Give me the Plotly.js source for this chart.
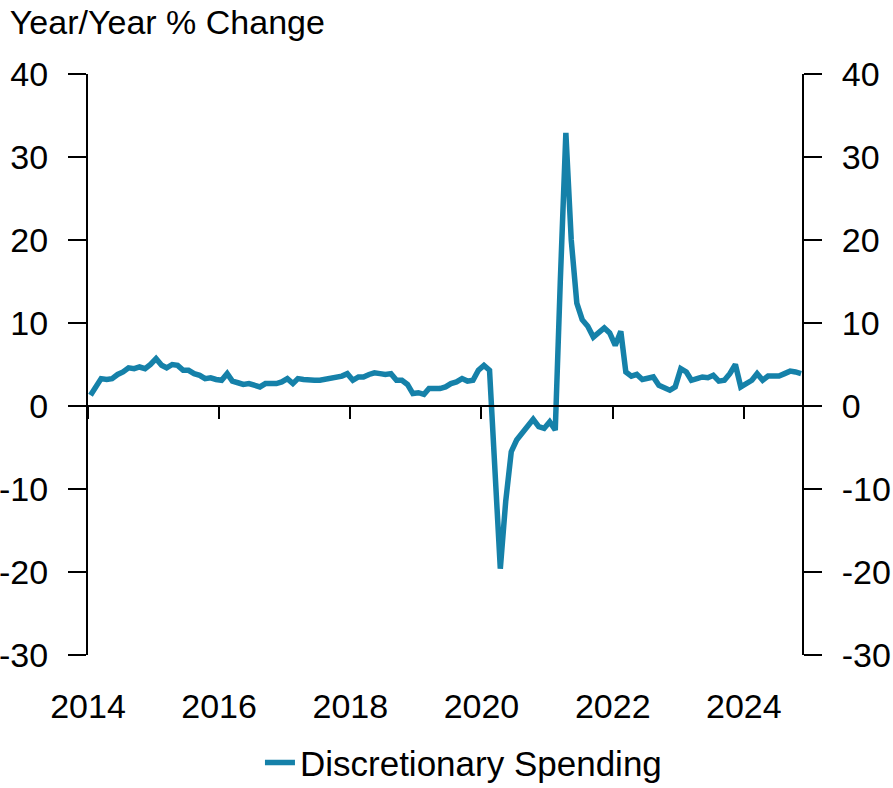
<!DOCTYPE html>
<html>
<head>
<meta charset="utf-8">
<script src="https://cdn.plot.ly/plotly-3.0.1.min.js"></script>
<style>
  html, body { margin: 0; padding: 0; background: #fff; }
  #chart { width: 893px; height: 788px; }
</style>
</head>
<body>
<div id="chart"></div>
<script>
// Discretionary spending, year/year % change, monthly Jan 2014 - Nov 2024
const startYear = 2014
const values2014 = [1.3, 2.3, 3.3, 3.2, 3.3, 3.8, 4.1, 4.6, 4.5, 4.7, 4.5, 5.0]
const values2015 = [5.7, 4.9, 4.6, 5.0, 4.9, 4.3, 4.3, 3.9, 3.7, 3.3, 3.4, 3.2]
const values2016 = [3.1, 3.9, 3.0, 2.8, 2.6, 2.7, 2.5, 2.3, 2.7, 2.7, 2.7, 2.9]
const values2017 = [3.3, 2.7, 3.3, 3.2, 3.1, 3.1, 3.1, 3.2, 3.3, 3.5, 3.6, 3.9]
const values2018 = [3.1, 3.5, 3.5, 3.8, 4.0, 3.9, 3.8, 3.9, 3.1, 3.1, 2.6, 1.5]
const values2019 = [1.6, 1.4, 2.1, 2.1, 2.1, 2.3, 2.7, 2.9, 3.3, 3.0, 3.1, 4.3]
const values2020 = [4.9, 4.3, -7.5, -19.6, -11.5, -5.5, -4.1, -3.3, -2.3, -1.6, -2.5, -2.7]
const values2021 = [-1.9, -2.9, 15.0, 32.9, 20.0, 12.4, 10.4, 9.6, 8.3, 8.9, 9.4, 8.8]
const values2022 = [7.3, 9.0, 4.1, 3.6, 3.8, 3.2, 3.3, 3.5, 2.5, 2.2, 1.9, 2.3]
const values2023 = [4.5, 4.1, 3.1, 3.3, 3.5, 3.4, 3.7, 3.0, 3.1, 3.9, 5.0, 2.3]
const values2024 = [2.7, 3.1, 3.9, 3.1, 3.6, 3.6, 3.6, 3.9, 4.2, 4.1, 3.9]

const yTicks = [-30, -20, -10, 0, 10, 20, 30, 40]
const yTickLabels = ['-30', '-20', '-10', '0', '10', '20', '30', '40']
const seriesName = 'Discretionary Spending'
const yTitle = 'Year/Year % Change'

const allYears = [values2014, values2015, values2016, values2017, values2018, values2019,
    values2020, values2021, values2022, values2023, values2024]

const dates = []
const values = []
allYears.forEach(function (yearValues, k) {
    yearValues.forEach(function (v, m) {
        const mm = String(m + 1).padStart(2, '0')
        dates.push((startYear + k) + '-' + mm + '-15')
        values.push(v)
    })
})

const font = 'Liberation Sans, Arial, sans-serif'
const xRange = ['2014-01-01', '2024-11-20']
const yRange = [-30, 40]

const trace = {
    x: dates,
    y: values,
    type: 'scatter',
    mode: 'lines',
    name: seriesName,
    line: { color: '#1581a9', width: 5.5 }
}

// empty trace so the zero-level axis and the right axis get drawn
const axisHolder = {
    x: [],
    y: [],
    type: 'scatter',
    mode: 'lines',
    xaxis: 'x2',
    yaxis: 'y2',
    showlegend: false,
    hoverinfo: 'skip'
}

const yAxisBase = {
    range: yRange,
    tickvals: yTicks,
    ticktext: yTickLabels,
    ticks: 'outside',
    ticklen: 18,
    tickwidth: 2,
    tickcolor: '#000',
    showline: true,
    linewidth: 2,
    linecolor: '#000',
    showgrid: false,
    zeroline: false,
    ticklabelstandoff: 13,
    tickfont: { family: font, size: 34, color: '#000' }
}

const layout = {
    width: 893,
    height: 788,
    margin: { l: 88, r: 91, t: 74, b: 133 },
    paper_bgcolor: '#fff',
    plot_bgcolor: '#fff',
    font: { family: font, size: 34, color: '#000' },
    title: {
        text: yTitle,
        font: { family: font, size: 34, color: '#000' },
        xref: 'container', x: 0.011, xanchor: 'left',
        yref: 'container', y: 0.972, yanchor: 'middle'
    },
    // bottom axis: year labels only
    xaxis: {
        type: 'date',
        range: xRange,
        tick0: '2014-01-01',
        dtick: 'M24',
        tickformat: '%Y',
        ticks: '',
        showline: false,
        showgrid: false,
        zeroline: false,
        ticklabelstandoff: 28,
        tickfont: { family: font, size: 34, color: '#000' }
    },
    // axis line with ticks on the zero level
    xaxis2: {
        type: 'date',
        overlaying: 'x',
        anchor: 'free',
        position: (0 - yRange[0]) / (yRange[1] - yRange[0]),
        range: xRange,
        tick0: '2014-01-01',
        dtick: 'M24',
        ticks: 'outside',
        ticklen: 12,
        tickwidth: 2,
        tickcolor: '#000',
        showticklabels: false,
        showline: true,
        linewidth: 2,
        linecolor: '#000',
        showgrid: false,
        zeroline: false
    },
    yaxis: Object.assign({}, yAxisBase, { side: 'left' }),
    yaxis2: Object.assign({}, yAxisBase, { side: 'right', overlaying: 'y', anchor: 'x' }),
    showlegend: true,
    legend: {
        orientation: 'h',
        xref: 'container', x: 0.519, xanchor: 'center',
        yref: 'container', y: 0.032, yanchor: 'middle',
        bgcolor: 'rgba(0,0,0,0)',
        font: { family: font, size: 35, color: '#000' }
    }
}

Plotly.newPlot('chart', [trace, axisHolder], layout, { staticPlot: true })
</script>
</body>
</html>
